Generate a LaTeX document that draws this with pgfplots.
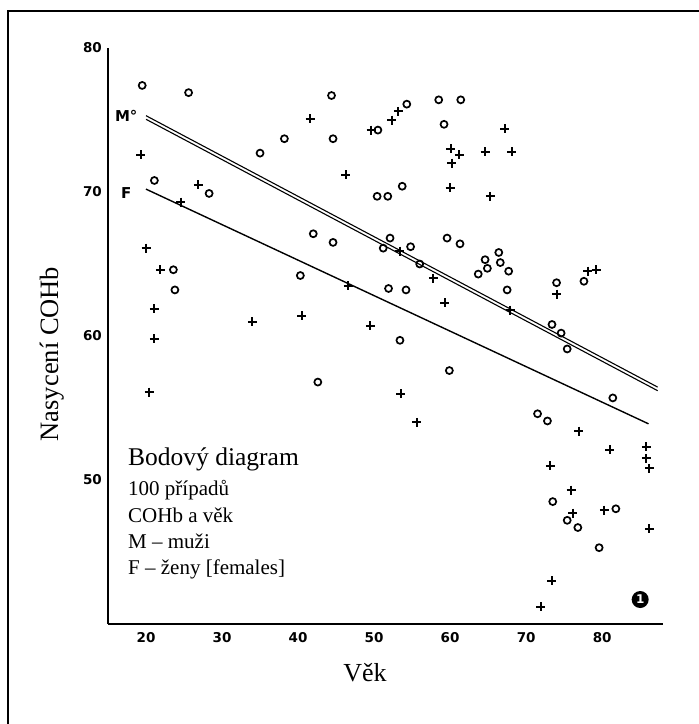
\documentclass[border=0pt]{standalone}
\usepackage{fontspec}
\setmainfont{Liberation Serif}
\newfontfamily\tickfont{DejaVu Sans}
\usepackage{pgfplots}
\pgfplotsset{compat=1.18}
\begin{document}
\begin{tikzpicture}
\path[use as bounding box] (0,0) rectangle (699pt,724pt);
\draw[line width=2.5pt] (8pt,0) -- (8pt,713pt) -- (699pt,713pt);
\begin{axis}[
  at={(108pt,100pt)}, anchor=south west,
  width=555pt, height=576pt, scale only axis,
  xmin=15, xmax=88, ymin=40, ymax=80,
  axis x line*=bottom, axis y line*=left,
  axis line style={line width=2pt, -},
  xtick={20,30,...,80}, ytick={50,60,70,80},
  major tick length=0pt,
  /pgf/number format/assume math mode=true,
  ticklabel style={font=\tickfont\bfseries\fontsize{13.5}{13.5}\selectfont},
  xticklabel style={inner sep=0pt, yshift=-8pt, anchor=north},
  yticklabel style={inner sep=0pt, xshift=-6pt, anchor=east},
  clip=false,
]
% regression lines
\addplot[black, line width=1.1pt] coordinates {(20,75.3) (87.3,56.45)};
\addplot[black, line width=1.1pt] coordinates {(20,75.05) (87.3,56.2)};
\addplot[black, line width=1.4pt] coordinates {(20,70.2) (86.1,53.9)};
% circles
\addplot[only marks, mark=o, mark size=3.5pt, mark options={line width=1.7pt, black}] coordinates {
(19.5,77.4) (25.6,76.9) (44.4,76.7) (35.0,72.7) (38.2,73.7) (44.6,73.7)
(21.1,70.8) (28.3,69.9) (42.0,67.1) (44.6,66.5) (23.6,64.6) (23.8,63.2)
(40.3,64.2) (42.6,56.8) (50.5,74.3) (54.3,76.1) (58.5,76.4) (61.4,76.4)
(59.2,74.7) (50.4,69.7) (51.8,69.7) (53.7,70.4) (52.1,66.8) (51.2,66.1)
(54.8,66.2) (56.0,65.0) (59.6,66.8) (61.3,66.4) (64.6,65.3) (66.4,65.8)
(66.6,65.1) (64.9,64.7) (63.7,64.3) (67.7,64.5) (67.5,63.2) (51.9,63.3)
(54.2,63.2) (53.4,59.7) (74.0,63.7) (77.6,63.8) (73.4,60.8) (74.6,60.2)
(75.4,59.1) (59.9,57.6) (81.4,55.7) (71.5,54.6) (72.8,54.1) (73.5,48.5)
(75.4,47.2) (76.8,46.7) (81.8,48.0) (79.6,45.3)
};
% pluses
\addplot[only marks, mark=+, mark size=4.5pt, mark options={line width=2pt, black}] coordinates {
(41.6,75.1) (19.3,72.6) (46.3,71.2) (26.9,70.5) (24.6,69.3) (20.0,66.1)
(21.9,64.6) (21.1,61.9) (34.0,61.0) (40.5,61.4) (21.1,59.8) (20.4,56.1)
(46.6,63.5) (49.6,74.3) (52.3,75.0) (53.2,75.6) (67.2,74.4) (60.1,73.0)
(61.2,72.6) (60.2,72.0) (64.6,72.8) (68.1,72.8) (60.0,70.3) (65.3,69.7)
(53.4,65.9) (57.8,64.0) (59.3,62.3) (49.5,60.7) (74.0,62.9) (78.1,64.5)
(79.2,64.6) (67.9,61.8) (53.5,56.0) (55.6,54.0) (76.9,53.4) (81.0,52.1)
(85.8,52.3) (85.8,51.5) (86.2,50.8) (73.2,51.0) (75.9,49.3) (76.1,47.7)
(80.3,47.9) (86.2,46.6) (73.4,43.0) (71.9,41.2)
};
\node[font=\tickfont\bfseries\fontsize{15}{15}\selectfont] at (axis cs:17.4,75.3) {M°};
\node[font=\tickfont\bfseries\fontsize{15}{15}\selectfont] at (axis cs:17.4,69.9) {F};
\node[circle, fill=black, minimum size=17pt, inner sep=0pt, text=white,
      font=\tickfont\bfseries\fontsize{12}{12}\selectfont] at (axis cs:85.0,41.7) {1};
\end{axis}
\node[rotate=90, anchor=base, font=\fontsize{26.5}{30}\selectfont, inner sep=0pt] at (58pt,370pt) {Nasycení COHb};
\node[anchor=base, font=\fontsize{26}{30}\selectfont, inner sep=0pt] at (365pt,42pt) {Věk};
\node[anchor=base west, font=\fontsize{25.5}{30}\selectfont, inner sep=0pt] at (128pt,258pt) {Bodový diagram};
\node[anchor=base west, font=\fontsize{21}{25}\selectfont, inner sep=0pt] at (128pt,228pt) {100 případů};
\node[anchor=base west, font=\fontsize{21}{25}\selectfont, inner sep=0pt] at (128pt,201pt) {COHb a věk};
\node[anchor=base west, font=\fontsize{21}{25}\selectfont, inner sep=0pt] at (128pt,175pt) {M – muži};
\node[anchor=base west, font=\fontsize{21}{25}\selectfont, inner sep=0pt] at (128pt,149pt) {F – ženy [females]};
\end{tikzpicture}
\end{document}
